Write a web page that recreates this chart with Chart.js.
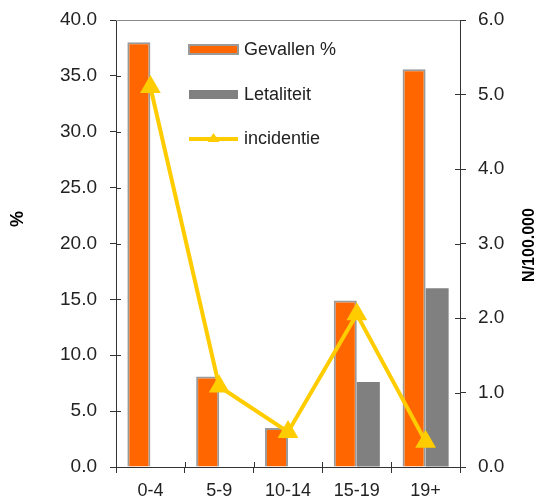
<!DOCTYPE html>
<html>
<head>
<meta charset="utf-8">
<script src="https://cdn.jsdelivr.net/npm/chart.js@4/dist/chart.umd.min.js"></script>
<style>
  html, body { margin: 0; padding: 0; background: #fff; }
  #wrap { width: 539px; height: 504px; }
</style>
</head>
<body>
<div id="wrap"><canvas id="chart-canvas" width="539" height="504"></canvas></div>
<script>
const categories = ['0-4', '5-9', '10-14', '15-19', '19+'];
const gevallen = [38.0, 8.1, 3.5, 14.9, 35.6];      // %
const letaliteit = [0, 0, 0, 7.6, 16.0];            // %
const incidentie = [5.1, 1.08, 0.47, 2.05, 0.34];   // N/100.000

const fontFamily = "'Liberation Sans', Arial, sans-serif";
const axisColor = '#333333';

// draws the small inward tick marks, the top border, the axis titles and the legend
const extras = {
    id: 'extras',
    afterDraw(chart) {
        const ctx = chart.ctx;
        const area = chart.chartArea;
        const y = chart.scales.y, y1 = chart.scales.y1, x = chart.scales.x;
        ctx.save();
        ctx.strokeStyle = axisColor;
        ctx.lineWidth = 1;
        ctx.beginPath();
        y.ticks.forEach((t, i) => {
            let p = Math.round(y.getPixelForTick(i)) + 0.5;
            ctx.moveTo(area.left, p); ctx.lineTo(area.left + 5, p);
        });
        y1.ticks.forEach((t, i) => {
            let p = Math.round(y1.getPixelForTick(i)) + 0.5;
            ctx.moveTo(area.right, p); ctx.lineTo(area.right - 5, p);
        });
        for (let i = 0; i <= categories.length; i++) {
            let p = Math.round(x.left + i * x.width / categories.length) + 0.5;
            ctx.moveTo(p, area.bottom); ctx.lineTo(p, area.bottom - 5);
        }
        ctx.stroke();

        // top border
        ctx.strokeStyle = '#8a8a8a';
        ctx.beginPath();
        ctx.moveTo(area.left, area.top + 0.5);
        ctx.lineTo(area.right, area.top + 0.5);
        ctx.stroke();

        // axis titles
        ctx.fillStyle = '#000';
        ctx.font = 'bold 18px ' + fontFamily;
        ctx.textAlign = 'center';
        ctx.textBaseline = 'middle';
        ctx.translate(18, 219);
        ctx.rotate(-Math.PI / 2);
        ctx.fillText('%', 0, 0);
        ctx.setTransform(1, 0, 0, 1, 0, 0);
        ctx.font = 'bold 16px ' + fontFamily;
        ctx.translate(530, 245);
        ctx.rotate(-Math.PI / 2);
        ctx.fillText('N/100.000', 0, 0);
        ctx.setTransform(1, 0, 0, 1, 0, 0);

        // legend
        const ds = chart.data.datasets;
        const lx = area.left + 73, tx = area.left + 128;
        ctx.font = '18px ' + fontFamily;
        ctx.textAlign = 'left';
        ctx.fillStyle = ds[0].backgroundColor;
        ctx.fillRect(lx, 45, 49, 9);
        ctx.strokeStyle = ds[0].borderColor;
        ctx.lineWidth = 2;
        ctx.strokeRect(lx, 45, 49, 9);
        ctx.fillStyle = ds[1].backgroundColor;
        ctx.fillRect(lx, 90, 49, 9);
        ctx.strokeStyle = ds[2].borderColor;
        ctx.lineWidth = 4;
        ctx.beginPath();
        ctx.moveTo(lx, 139); ctx.lineTo(lx + 49, 139);
        ctx.stroke();
        ctx.fillStyle = ds[2].borderColor;
        ctx.beginPath();
        ctx.moveTo(lx + 24.5, 133); ctx.lineTo(lx + 30.5, 142); ctx.lineTo(lx + 18.5, 142);
        ctx.closePath();
        ctx.fill();
        ctx.fillStyle = '#222';
        ctx.fillText(ds[0].label, tx, 50);
        ctx.fillText(ds[1].label, tx, 95);
        ctx.fillText(ds[2].label, tx, 139);
        ctx.restore();
    }
};

function fitVertical(width) {
    return s => { s.width = width; s.paddingTop = 0; s.paddingBottom = 0; };
}

const myChart = new Chart(document.getElementById('chart-canvas'), {
    type: 'bar',
    data: {
        labels: categories,
        datasets: [{
            label: 'Gevallen %',
            data: gevallen,
            backgroundColor: '#FF6600',
            borderColor: '#9a9a9a',
            borderWidth: 2,
            borderSkipped: 'bottom',
            yAxisID: 'y',
            order: 2
        }, {
            label: 'Letaliteit',
            data: letaliteit,
            backgroundColor: '#808080',
            borderWidth: 0,
            yAxisID: 'y',
            order: 2
        }, {
            type: 'line',
            label: 'incidentie',
            data: incidentie,
            borderColor: '#FFCC00',
            backgroundColor: '#FFCC00',
            borderWidth: 4,
            pointStyle: 'triangle',
            pointRadius: 12,
            pointBorderWidth: 0,
            pointBackgroundColor: '#FFCC00',
            tension: 0,
            yAxisID: 'y1',
            order: 1
        }]
    },
    options: {
        responsive: false,
        animation: false,
        layout: { padding: { top: 20, left: 0, right: 0, bottom: 0 } },
        datasets: { bar: { categoryPercentage: 0.67, barPercentage: 1 } },
        plugins: { legend: { display: false }, tooltip: { enabled: false } },
        scales: {
            x: {
                offset: true,
                grid: { offset: true, drawOnChartArea: false, tickLength: 6, color: axisColor },
                border: { color: axisColor },
                ticks: { color: '#222', font: { family: fontFamily, size: 18 }, padding: 7 },
                afterFit(s) { s.height = 37; s.paddingLeft = 0; s.paddingRight = 0; }
            },
            y: {
                position: 'left',
                min: 0, max: 40,
                grid: { drawOnChartArea: false, tickLength: 6, color: axisColor },
                border: { color: axisColor },
                ticks: {
                    stepSize: 5,
                    color: '#222',
                    font: { family: fontFamily, size: 19 },
                    padding: 13,
                    callback: v => v.toFixed(1)
                },
                afterFit: fitVertical(116)
            },
            y1: {
                position: 'right',
                min: 0, max: 6,
                grid: { drawOnChartArea: false, tickLength: 6, color: axisColor },
                border: { color: axisColor },
                ticks: {
                    stepSize: 1,
                    color: '#222',
                    font: { family: fontFamily, size: 19 },
                    padding: 12,
                    callback: v => v.toFixed(1)
                },
                afterFit: fitVertical(79)
            }
        }
    },
    plugins: [extras]
});
</script>
</body>
</html>
